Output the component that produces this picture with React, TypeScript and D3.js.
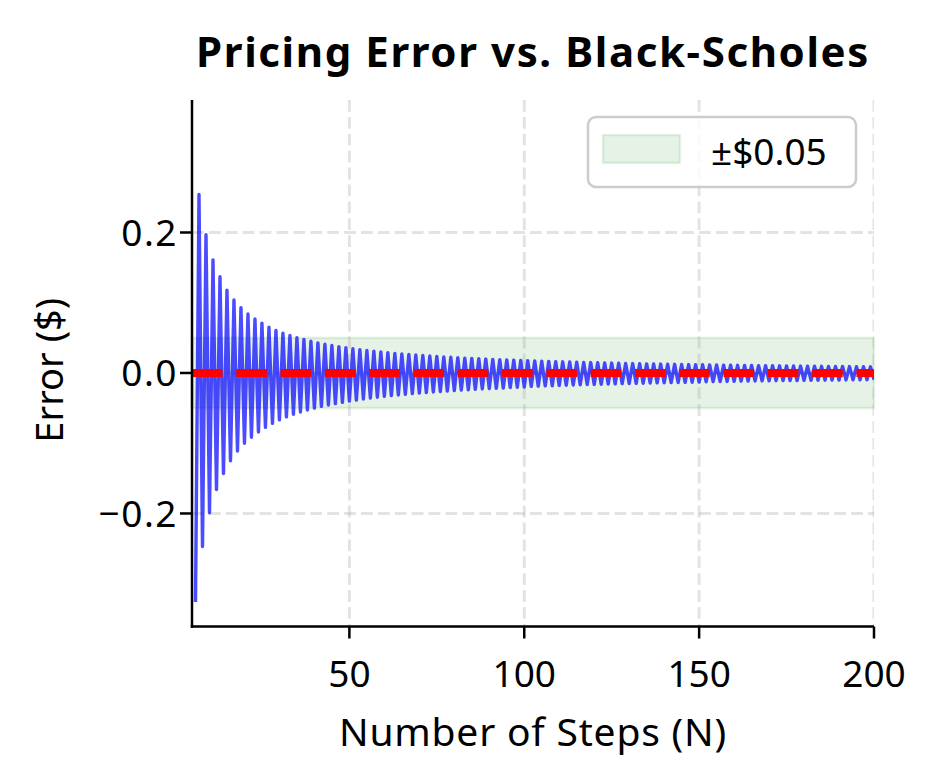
import React from "react";
import * as d3 from "d3";

// ---- data ----
const firstStep = 6;
const pricingErrors: number[] = [
  -0.326, 0.254, -0.247, 0.197, -0.199, 0.161, -0.166, 0.137, -0.143, 0.118,
  -0.125, 0.104, -0.111, 0.093, -0.1, 0.084, -0.0915, 0.077, -0.084, 0.071,
  -0.0775, 0.0652, -0.0718, 0.0607, -0.0668, 0.0568, -0.0625, 0.0533, -0.0588, 0.0503,
  -0.0556, 0.0476, -0.0526, 0.0451, -0.05, 0.0429, -0.0476, 0.0409, -0.0455, 0.0391,
  -0.0435, 0.0374, -0.0417, 0.0359, -0.04, 0.0345, -0.0385, 0.0332, -0.037, 0.032,
  -0.0357, 0.0309, -0.0345, 0.0298, -0.0333, 0.0289, -0.0323, 0.0279, -0.0313, 0.0271,
  -0.0303, 0.0263, -0.0294, 0.0255, -0.0286, 0.0248, -0.0278, 0.0241, -0.027, 0.0235,
  -0.0263, 0.0229, -0.0256, 0.0223, -0.025, 0.0217, -0.0244, 0.0212, -0.0238, 0.0207,
  -0.0233, 0.0202, -0.0227, 0.0198, -0.0222, 0.0193, -0.0217, 0.0189, -0.0213, 0.0185,
  -0.0208, 0.0181, -0.0204, 0.0178, -0.02, 0.0174, -0.0191, 0.0171, -0.0188, 0.0168,
  -0.0184, 0.0164, -0.0181, 0.0161, -0.0177, 0.0159, -0.0174, 0.0156, -0.0171, 0.0153,
  -0.0168, 0.015, -0.0165, 0.0148, -0.0163, 0.0145, -0.016, 0.0143, -0.0157, 0.0141,
  -0.0155, 0.0139, -0.0152, 0.0136, -0.015, 0.0134, -0.0148, 0.0132, -0.0146, 0.013,
  -0.0143, 0.0128, -0.0141, 0.0127, -0.0139, 0.0125, -0.0137, 0.0123, -0.0135, 0.0121,
  -0.0134, 0.012, -0.0132, 0.0118, -0.013, 0.0117, -0.0125, 0.0115, -0.0123, 0.0114,
  -0.0122, 0.0112, -0.012, 0.0111, -0.0119, 0.0109, -0.0117, 0.0108, -0.0116, 0.0107,
  -0.0114, 0.0105, -0.0113, 0.0104, -0.0112, 0.0103, -0.011, 0.0102, -0.0109, 0.0101,
  -0.0108, 0.0099, -0.0107, 0.0098, -0.0106, 0.0097, -0.0104, 0.0096, -0.0103, 0.0095,
  -0.0102, 0.0094, -0.0101, 0.0093, -0.01, 0.0092, -0.0099, 0.0091, -0.0098, 0.009,
  -0.0097, 0.0089, -0.0096, 0.0088, -0.0095,
];
const xTicks = [50, 100, 150, 200];
const yTicks = [-0.2, 0.0, 0.2];
const xDomain: [number, number] = [5, 200];
const yDomain: [number, number] = [-0.3609, 0.3886];
const tolerance = 0.05;
const titleText = "Pricing Error vs. Black-Scholes";
const xLabel = "Number of Steps (N)";
const yLabel = "Error ($)";
const legendLabel = "±$0.05";

const W = 934;
const H = 784;
const M = { left: 192, right: 874, top: 100, bottom: 626.5 };
const FONT = "'Noto Sans', 'DejaVu Sans', sans-serif";

export default function App() {
  const x = d3.scaleLinear().domain(xDomain).range([M.left, M.right]);
  const y = d3.scaleLinear().domain(yDomain).range([M.bottom, M.top]);
  const pts = pricingErrors.map((v, i) => [firstStep + i, v] as [number, number]);
  const line = d3
    .line<[number, number]>()
    .x((d) => x(d[0]))
    .y((d) => y(d[1]));
  const fmtY = (v: number) => (v < 0 ? "\u2212" : "") + Math.abs(v).toFixed(1);
  const gridStyle = { stroke: "#b0b0b0", strokeOpacity: 0.35, strokeWidth: 3, strokeDasharray: "11.8 5.1" };

  return (
    <svg
      width={W}
      height={H}
      style={{ position: "absolute", left: 0, top: 0, display: "block", background: "#fff" }}
      fontFamily={FONT}
    >
      <defs>
        <clipPath id="plotclip">
          <rect x={M.left} y={M.top} width={M.right - M.left} height={M.bottom - M.top} />
        </clipPath>
      </defs>
      <rect x={0} y={0} width={W} height={H} fill="#fff" />

      {/* tolerance band */}
      <rect
        x={M.left}
        y={y(tolerance)}
        width={M.right - M.left}
        height={y(-tolerance) - y(tolerance)}
        fill="green"
        fillOpacity={0.1}
        stroke="green"
        strokeOpacity={0.1}
        strokeWidth={2.5}
      />

      {/* grid */}
      <g clipPath="url(#plotclip)">
        {xTicks.map((t) => (
          <line key={"gx" + t} x1={x(t)} x2={x(t)} y1={M.top} y2={M.bottom} {...gridStyle} />
        ))}
        {yTicks.map((t) => (
          <line key={"gy" + t} x1={M.left} x2={M.right} y1={y(t)} y2={y(t)} {...gridStyle} />
        ))}
      </g>

      {/* data */}
      <g clipPath="url(#plotclip)">
        <path
          d={line(pts) || ""}
          fill="none"
          stroke="blue"
          strokeOpacity={0.7}
          strokeWidth={3.4}
          strokeLinejoin="round"
        />
        <line
          x1={M.left}
          x2={M.right}
          y1={y(0)}
          y2={y(0)}
          stroke="red"
          strokeWidth={7.8}
          strokeDasharray="30.5 13.8"
        />
      </g>

      {/* spines */}
      <line x1={M.left} x2={M.left} y1={M.top} y2={M.bottom + 1.25} stroke="#000" strokeWidth={2.5} />
      <line x1={M.left - 1.25} x2={M.right} y1={M.bottom} y2={M.bottom} stroke="#000" strokeWidth={2.5} />

      {/* x ticks */}
      {xTicks.map((t) => (
        <g key={"xt" + t}>
          <line x1={x(t)} x2={x(t)} y1={M.bottom} y2={M.bottom + 12} stroke="#000" strokeWidth={2.5} />
          <text x={x(t)} y={687} textAnchor="middle" fontSize={37} fill="#000">
            {t}
          </text>
        </g>
      ))}
      {/* y ticks */}
      {yTicks.map((t) => (
        <g key={"yt" + t}>
          <line x1={M.left - 12} x2={M.left} y1={y(t)} y2={y(t)} stroke="#000" strokeWidth={2.5} />
          <text x={178} y={y(t) + 13.5} textAnchor="end" fontSize={37} letterSpacing={1.5} fill="#000">
            {fmtY(t)}
          </text>
        </g>
      ))}

      {/* labels */}
      <text
        x={(M.left + M.right) / 2}
        y={67}
        textAnchor="middle"
        fontSize={42}
        fontWeight="bold"
        letterSpacing={1.6}
        fill="#000"
      >
        {titleText}
      </text>
      <text x={(M.left + M.right) / 2} y={746} textAnchor="middle" fontSize={39} letterSpacing={0.8} fill="#000">
        {xLabel}
      </text>
      <text
        transform={`translate(63, ${(M.top + M.bottom) / 2 + 7}) rotate(-90)`}
        textAnchor="middle"
        fontSize={38}
        fill="#000"
      >
        {yLabel}
      </text>

      {/* legend */}
      <g>
        <rect x={588} y={117} width={268} height={70} rx={8} fill="#fff" fillOpacity={0.8} stroke="#cccccc" strokeWidth={2.5} />
        <rect
          x={603}
          y={135}
          width={77}
          height={28}
          fill="green"
          fillOpacity={0.1}
          stroke="green"
          strokeOpacity={0.1}
          strokeWidth={2.5}
        />
        <text x={711} y={165} fontSize={37} fill="#000">
          {legendLabel}
        </text>
      </g>
    </svg>
  );
}
